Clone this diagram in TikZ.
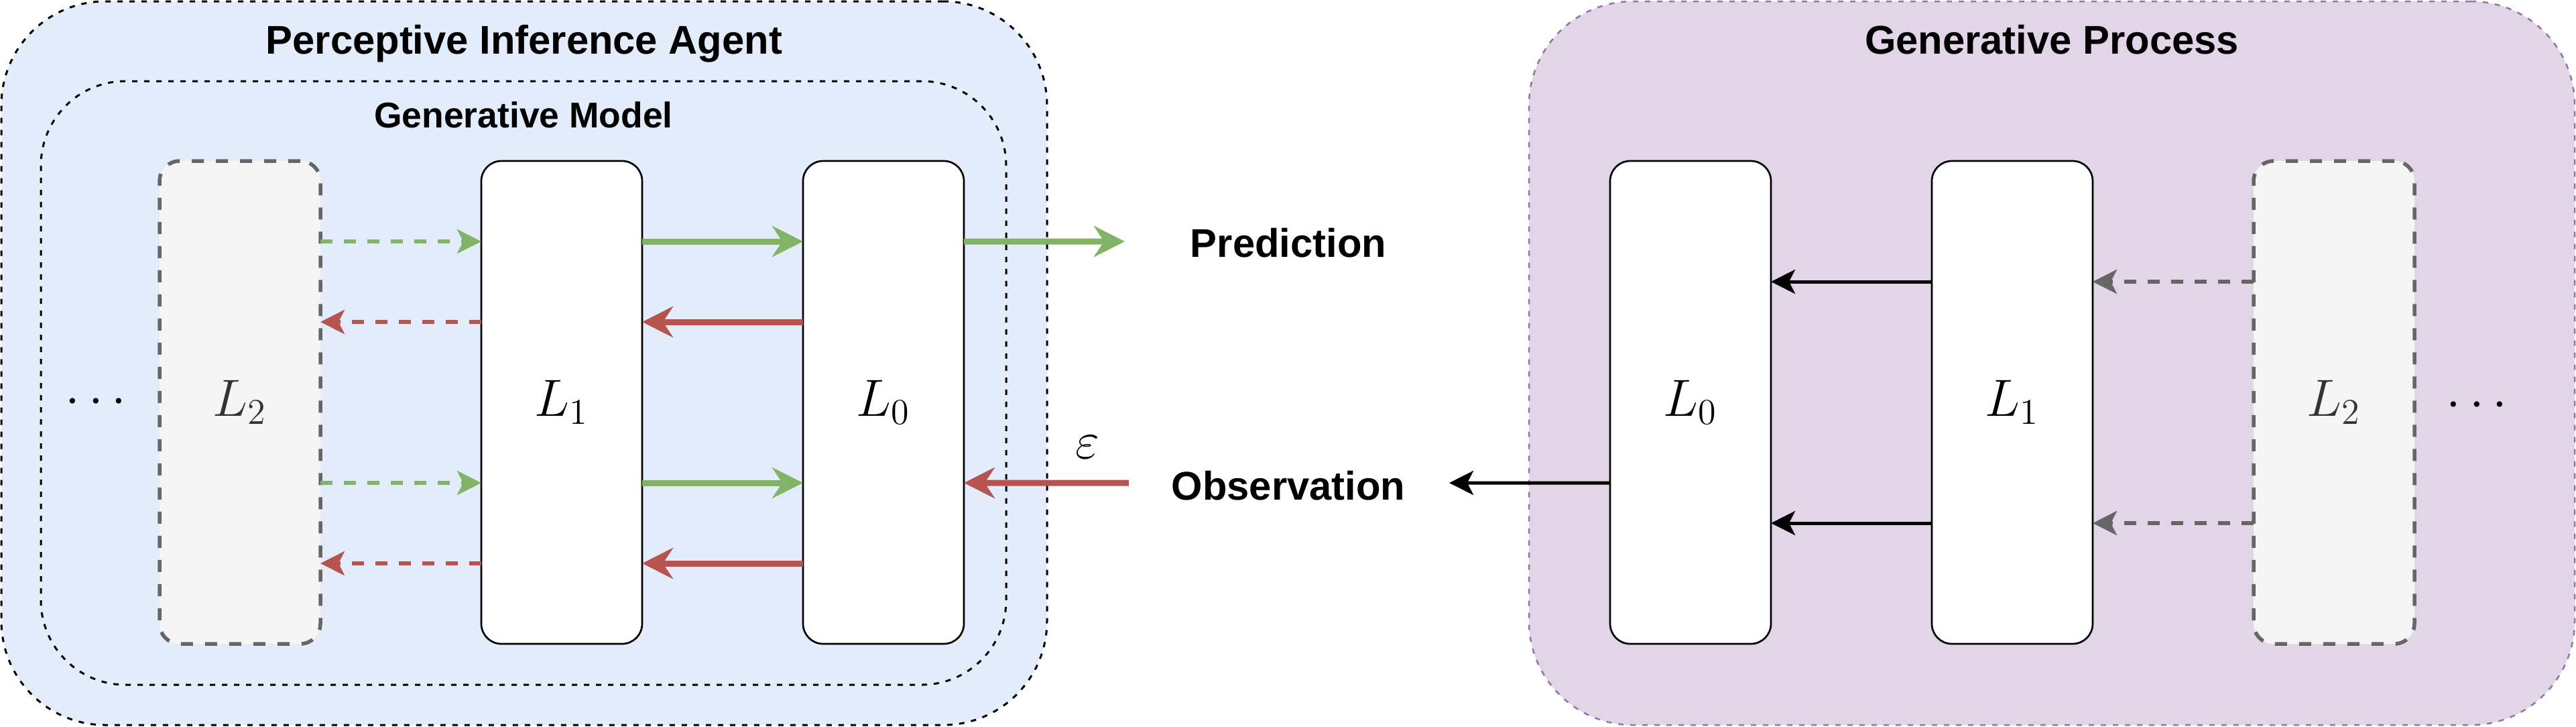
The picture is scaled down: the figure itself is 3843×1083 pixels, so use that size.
\documentclass[tikz,border=0pt]{standalone}
\usepackage{graphicx}
\usepackage{fontspec}
\newfontfamily\drawfont{Liberation Sans}
\usetikzlibrary{positioning,arrows.meta}
\definecolor{agentblue}{HTML}{E3ECFB}
\definecolor{procpurple}{HTML}{E1D5E7}
\definecolor{procedge}{HTML}{9673A6}
\definecolor{ghostfill}{HTML}{F5F5F5}
\definecolor{ghostedge}{HTML}{666666}
\definecolor{fwdgreen}{HTML}{82B366}
\definecolor{errred}{HTML}{B85450}
\newcommand{\lvltext}[1]{\scalebox{1.07}{\huge$#1$}}
\begin{document}
\begin{tikzpicture}[x=0.1mm, y=-0.1mm,
    bigtip/.tip={Stealth[length=4.6mm, width=4.6mm, inset=1.5mm]},
    smalltip/.tip={Stealth[length=3.6mm, width=3.6mm, inset=0.9mm]},
    heading/.style={font=\drawfont\bfseries\fontsize{17}{20}\selectfont, anchor=base},
    subheading/.style={font=\drawfont\bfseries\fontsize{15.2}{18}\selectfont, anchor=base},
    frame/.style={line width=0.3mm, dash pattern=on 0.8mm off 1mm, outer sep=0pt},
    lvl/.style={draw, fill=white, line width=0.27mm, rounded corners=3mm,
      minimum width=24mm, minimum height=72mm, outer sep=0pt, inner sep=0pt},
    ghost/.style={lvl, draw=ghostedge, fill=ghostfill, text=black!80,
      line width=0.55mm, dash pattern=on 1.8mm off 1.8mm},
    fwd/.style={-bigtip, fwdgreen, line width=0.9mm},
    bwd/.style={-bigtip, errred, line width=0.9mm},
    fwddash/.style={-smalltip, fwdgreen, line width=0.55mm, dash pattern=on 1.8mm off 1.7mm},
    bwddash/.style={-smalltip, errred, line width=0.55mm, dash pattern=on 1.8mm off 1.7mm},
    gen/.style={-smalltip, black, line width=0.5mm},
    gendash/.style={-smalltip, ghostedge, line width=0.55mm, dash pattern=on 1.8mm off 1.7mm}]
  \useasboundingbox (0,0) rectangle (3843,1083);
  % agent side
  \node (agent) [frame, draw, fill=agentblue, rounded corners=15.5mm,
    minimum width=156mm, minimum height=107.9mm] at (782,541.5) {};
  \node (model) [frame, draw, rounded corners=12.6mm,
    minimum width=144mm, minimum height=90mm] at (781,571) {};
  \node (agenttitle) [heading] at (782,80) {Perceptive Inference Agent};
  \node (modeltitle) [subheading] at (781,190) {Generative Model};
  \node (gL2) [ghost] at (358,600) {\lvltext{L_2}};
  \node (gL1) [lvl, right=24mm of gL2] {\lvltext{L_1}};
  \node (gL0) [lvl, right=24mm of gL1] {\lvltext{L_0}};
  \node (gdots) at (143,600) {\lvltext{\cdots}};
  % process side
  \node (process) [frame, draw=procedge, fill=procpurple, line width=0.25mm,
    rounded corners=15.5mm, minimum width=156mm, minimum height=107.9mm] at (3061,541.5) {};
  \node (processtitle) [heading] at (3061,80) {Generative Process};
  \node (pL0) [lvl] at (2522,600) {\lvltext{L_0}};
  \node (pL1) [lvl, right=24mm of pL0] {\lvltext{L_1}};
  \node (pL2) [ghost, right=24mm of pL1] {\lvltext{L_2}};
  \node (pdots) at (3695,605) {\lvltext{\cdots}};
  % in between
  \node (pred) [heading] at (1922,383) {Prediction};
  \node (obs) [heading] at (1922,745) {Observation};
  \node (eps) at (1622,667) {\lvltext{\varepsilon}};
  \coordinate (predend) at (1678,360);
  \coordinate (obsstart) at (1684,720);
  \coordinate (obsend) at (2162,720);
  \path
    ([yshift=24mm]gL2.east) edge[fwddash] ([yshift=24mm]gL1.west)
    ([yshift=24mm]gL1.east) edge[fwd] ([yshift=24mm]gL0.west)
    ([yshift=24mm]gL0.east) edge[fwd] (predend)
    ([yshift=12mm]gL1.west) edge[bwddash] ([yshift=12mm]gL2.east)
    ([yshift=12mm]gL0.west) edge[bwd] ([yshift=12mm]gL1.east)
    ([yshift=-12mm]gL2.east) edge[fwddash] ([yshift=-12mm]gL1.west)
    ([yshift=-12mm]gL1.east) edge[fwd] ([yshift=-12mm]gL0.west)
    (obsstart) edge[bwd] ([yshift=-12mm]gL0.east)
    ([yshift=-24mm]gL1.west) edge[bwddash] ([yshift=-24mm]gL2.east)
    ([yshift=-24mm]gL0.west) edge[bwd] ([yshift=-24mm]gL1.east);
  \path
    ([yshift=18mm]pL1.west) edge[gen] ([yshift=18mm]pL0.east)
    ([yshift=18mm]pL2.west) edge[gendash] ([yshift=18mm]pL1.east)
    ([yshift=-18mm]pL1.west) edge[gen] ([yshift=-18mm]pL0.east)
    ([yshift=-18mm]pL2.west) edge[gendash] ([yshift=-18mm]pL1.east)
    ([yshift=-12mm]pL0.west) edge[gen] (obsend);
\end{tikzpicture}
\end{document}
